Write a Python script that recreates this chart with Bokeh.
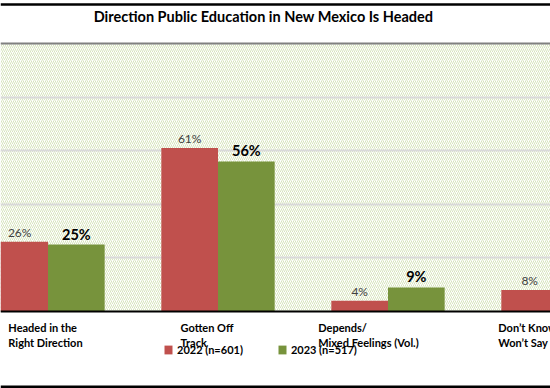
from bokeh.plotting import figure
from bokeh.models import (Range1d, FixedTicker, ColumnDataSource, LabelSet, Label,
                          Legend, LegendItem, BoxAnnotation, Span)
from bokeh.core.properties import value
from bokeh.embed import file_html
from bokeh.resources import INLINE

# ---- data ----
categories = ["Headed in the\nRight Direction", "Gotten Off\nTrack",
              "Depends/\nMixed Feelings (Vol.)", "Don\u2019t Know/\nWon\u2019t Say"]
values_2022 = [26, 61, 4, 8]
values_2023 = [25, 56, 9, 10]
series_names = ["2022 (n=601)", "2023 (n=517)"]
series_colors = ["#C0504D", "#77933C"]
gridline_ticks = [20, 40, 60, 80]
title_text = "Direction Public Education in New Mexico Is Headed"

FONT = "Lato"
W, H = 550, 388
TOP = 43            # top of the value axis (100%) in px
BASE = 311          # baseline (0%) in px
ppp = (BASE - TOP) / 100          # px per percent
SLOT = 170                        # px per category
X0 = -37.5                        # px of category 0 left edge


def py_to_y(py):
    return (BASE - py) / ppp


def px_to_x(px):
    return (px - X0) / SLOT


bar_w = 1 / 3
pos = [i + 0.5 for i in range(len(categories))]
src = ColumnDataSource(dict(
    x=pos, zero=[0] * len(pos), cat=categories,
    x22=[x - bar_w / 2 for x in pos], x23=[x + bar_w / 2 for x in pos],
    v22=values_2022, v23=values_2023,
    l22=[f"{v}%" for v in values_2022], l23=[f"{v}%" for v in values_2023]))

p = figure(width=W, height=H, output_backend="svg", toolbar_location=None,
           x_range=Range1d(px_to_x(0), px_to_x(W)), y_range=Range1d(py_to_y(H), py_to_y(0)),
           x_axis_location=None, y_axis_location=None,
           min_border=0, background_fill_color="white", border_fill_color="white",
           outline_line_color=None)

# hatched plot background
p.add_layout(BoxAnnotation(bottom=0, top=100, fill_color="white", fill_alpha=1,
                           hatch_pattern="/", hatch_color="#D7E4BD", hatch_scale=4,
                           hatch_weight=1, line_color=None, level="image"))

p.xgrid.visible = False
p.ygrid.ticker = FixedTicker(ticks=gridline_ticks)
p.ygrid.grid_line_color = "#D9D9D9"
p.ygrid.grid_line_width = 2

# frame lines
p.add_layout(Span(location=py_to_y(4), dimension="width", line_color="black", line_width=2.5))
p.add_layout(Span(location=100, dimension="width", line_color="#808080", line_width=2))
p.add_layout(Span(location=0, dimension="width", line_color="black", line_width=2))
p.add_layout(Span(location=py_to_y(386.5), dimension="width", line_color="black", line_width=3))

# title
p.add_layout(Label(x=px_to_x(263), y=py_to_y(16), text=title_text, text_align="center",
                   text_baseline="middle", text_font=FONT, text_font_size="14.5px",
                   text_font_style="bold", text_color="black"))

r22 = p.vbar(x="x22", top="v22", width=bar_w, source=src,
             fill_color=series_colors[0], line_color=None)
r23 = p.vbar(x="x23", top="v23", width=bar_w, source=src,
             fill_color=series_colors[1], line_color=None)

p.add_layout(LabelSet(x="x22", y="v22", text="l22", source=src, text_align="center",
                      text_baseline="bottom", y_offset=2, text_font=value(FONT),
                      text_font_size=value("12px"), text_color="#404040"))
p.add_layout(LabelSet(x="x23", y="v23", text="l23", source=src, text_align="center",
                      text_baseline="bottom", y_offset=2, text_font=value(FONT),
                      text_font_size=value("14.5px"), text_font_style="bold",
                      text_color="black"))

# category labels (Excel-style label slots)
p.extra_x_ranges = {"labels": Range1d(35.75 / 161.5, (W + 35.75) / 161.5)}
p.add_layout(LabelSet(x="x", y="zero", text="cat", source=src, x_range_name="labels",
                      text_align="center", text_baseline="top", y_offset=-9,
                      text_font=value(FONT), text_font_size=value("11px"),
                      text_font_style="bold", text_color="black", text_line_height=1.2))

lg = Legend(items=[LegendItem(label=series_names[0], renderers=[r22]),
                   LegendItem(label=series_names[1], renderers=[r23])],
            location=(163, H - 356), orientation="horizontal", glyph_width=10, glyph_height=11,
            label_height=11, label_standoff=4, spacing=34, padding=0, margin=0,
            border_line_color=None, background_fill_alpha=0,
            label_text_font=FONT, label_text_font_size="11px",
            label_text_font_style="bold", label_text_color="black")
p.add_layout(lg)

open("out.html", "w").write(file_html(p, INLINE))
